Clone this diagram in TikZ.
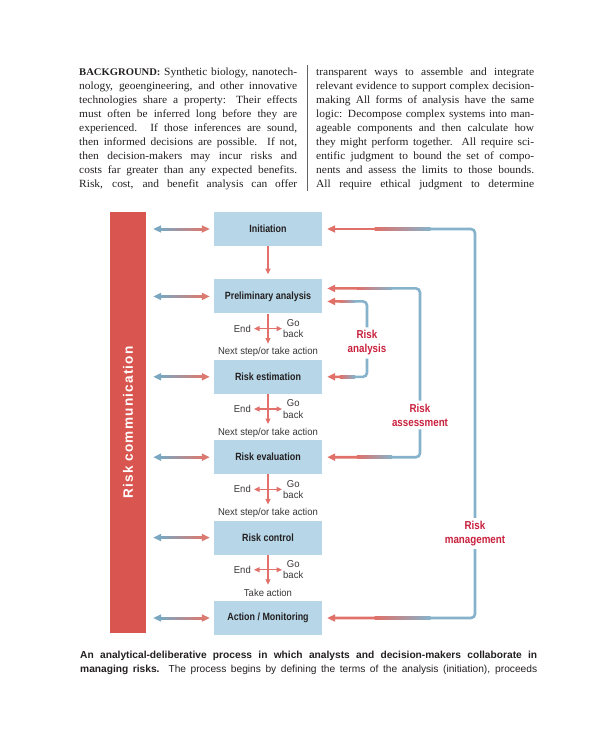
\documentclass[tikz,border=0pt]{standalone}
\usepackage{fontspec}
\usepackage{graphicx}
\setmainfont[FakeStretch=1.04]{Liberation Serif}
\setsansfont{Liberation Sans}
\newfontfamily\boxfont[FakeStretch=0.85]{Liberation Sans}
\newfontfamily\notefont[FakeStretch=0.95]{Liberation Sans}
\newfontfamily\barfont[LetterSpace=9]{Liberation Sans}
\usetikzlibrary{arrows.meta,positioning,calc}
\definecolor{barred}{HTML}{D95550}
\definecolor{boxblue}{HTML}{B7D7E8}
\definecolor{commblue}{HTML}{7BA7C0}
\definecolor{commred}{HTML}{DB7A70}
\definecolor{loopblue}{HTML}{86B3CB}
\definecolor{tipred}{HTML}{E07068}
\definecolor{flowred}{HTML}{E2716C}
\definecolor{riskred}{HTML}{C8203C}
\definecolor{ink}{HTML}{231F20}
\tikzset{
ftip/.tip={Triangle[length=5.5pt,width=5pt]},
ctip/.tip={Triangle[length=8pt,width=7pt]},
COLUMN/.style={anchor=north west,inner sep=0,text width=218pt,align=justify,text=ink,font=\fontsize{11}{14}\selectfont},
CAPTION/.style={anchor=north west,inner sep=0,text width=457pt,align=justify,text=ink,font=\sffamily\fontsize{10.2}{14}\selectfont},
RULE/.style={draw=ink!70,line width=0.6pt},
BAR/.style={fill=barred,minimum width=36pt,minimum height=421pt,inner sep=0,text=white,font=\barfont\bfseries\fontsize{13.6}{14}\selectfont},
STEPBOX/.style={fill=boxblue,minimum width=108pt,minimum height=34pt,inner sep=0,text=ink,font=\boxfont\bfseries\fontsize{10.5}{12}\selectfont},
NOTE/.style={inner sep=0,text=ink!90,font=\notefont\fontsize{10}{11.5}\selectfont},
TAG/.style={inner sep=3pt,align=center,text=riskred,font=\boxfont\bfseries\fontsize{11.5}{14}\selectfont},
FLOW/.style={draw=flowred,line width=1.1pt},
COMM/.style={line width=2pt},
LOOP/.style={draw=loopblue,line width=2.6pt,rounded corners=4pt},
}
% horizontal colour fade: left point, right point, left colour, right colour, half width
\newcommand\fadeseg[5]{%
  \shade[left color=#3,right color=#4] ($(#1)+(0,-#5)$) rectangle ($(#2)+(0,#5)$);
}
% feedback line from a label to an arrow tip
\newcommand\feedback[2]{%
  \coordinate (fbK) at (#1 |- #2);
  \coordinate (fbA) at ($(fbK)!0.3!(#2)$);
  \coordinate (fbB) at ($(fbK)!0.68!(#2)$);
  \draw[LOOP] (#1) |- ($(fbA)+(-0.3,0)$);
  \fadeseg{fbB}{fbA}{tipred}{loopblue}{1.3}
  \draw[LOOP,draw=tipred,-ctip] ($(fbB)+(0.3,0)$) -- (#2);
}
\newcommand\nexttext{Next step/or take action}

\begin{document}
\begin{tikzpicture}[x=1pt,y=-1pt]
	\useasboundingbox (0,0) rectangle (600,730);
	%background text
	\node[COLUMN] (bgleft) at (79,68) {\parfillskip=0pt
		{\fontsize{10.2}{14}\selectfont\textbf{BACKGROUND:}} Synthetic biology, nanotech-\linebreak nology, geoengineering, and other innovative\linebreak technologies share a property: Their effects\linebreak must often be inferred long before they are\linebreak experienced. If those inferences are sound,\linebreak then informed decisions are possible. If not,\linebreak then decision-makers may incur risks and\linebreak costs far greater than any expected benefits.\linebreak Risk, cost, and benefit analysis can offer\par};
	\node[COLUMN] (bgright) at (316,68) {\parfillskip=0pt
		transparent ways to assemble and integrate\linebreak relevant evidence to support complex decision-\linebreak making All forms of analysis have the same\linebreak logic: Decompose complex systems into man-\linebreak ageable components and then calculate how\linebreak they might perform together. All require sci-\linebreak entific judgment to bound the set of compo-\linebreak nents and assess the limits to those bounds.\linebreak All require ethical judgment to determine\par};
	\draw[RULE] (307,65) -- (307,191);
	%process
	\node[BAR] (bar) at (128,422.5) {\rotatebox{90}{Risk communication}};
	\node[STEPBOX] (init) at (268,229) {Initiation};
	\node[STEPBOX,below=33pt of init] (prelim) {Preliminary analysis};
	\node[STEPBOX,below=46pt of prelim] (estim) {Risk estimation};
	\node[STEPBOX,below=46pt of estim] (evalu) {Risk evaluation};
	\node[STEPBOX,below=46pt of evalu] (control) {Risk control};
	\node[STEPBOX,below=46pt of control] (action) {Action / Monitoring};
	\draw[FLOW,-ftip,shorten >=5pt] (init) -- (prelim);
	%decision points
	\foreach \b/\txt in {prelim/\nexttext,estim/\nexttext,evalu/\nexttext,control/Take action}{
		\coordinate (\b-down) at ($(\b.south)+(0,30)$);
		\coordinate (\b-e) at ($(\b.south)+(-14,15)$);
		\coordinate (\b-g) at ($(\b.south)+(14,15)$);
		\draw[FLOW,-ftip] (\b) -- (\b-down);
		\draw[FLOW,ftip-ftip] (\b-e) -- (\b-g);
		\node[NOTE,anchor=east] (\b-end) at ($(\b-e)+(-3,0)$) {End};
		\node[NOTE,anchor=west,align=center] (\b-back) at ($(\b-g)+(1,0)$) {Go\\back};
		\node[NOTE] (\b-next) at ($(\b.south)+(0,38.5)$) {\txt};
	}
	%communication arrows
	\foreach \b in {init,prelim,estim,evalu,control,action}{
		\coordinate (\b-cl) at ($(bar.east |- \b.west)+(7,0)$);
		\coordinate (\b-cr) at ($(\b.west)+(-4,0)$);
		\coordinate (\b-fl) at ($(\b-cl)+(8,0)$);
		\coordinate (\b-fr) at ($(\b-cr)+(-8,0)$);
		\fadeseg{\b-fl}{\b-fr}{commblue}{commred}{1}
		\draw[COMM,draw=commblue,-ctip] ($(\b-fl)+(0.3,0)$) -- (\b-cl);
		\draw[COMM,draw=commred,-ctip] ($(\b-fr)+(-0.3,0)$) -- (\b-cr);
	}
	%feedback loops
	\node[TAG] (anal) at (367,343) {Risk\\analysis};
	\node[TAG] (assess) at (420,415) {Risk\\assessment};
	\node[TAG] (mgmt) at (475,533.5) {Risk\\management};
	\coordinate (init-in) at ($(init.east)+(5,0)$);
	\coordinate (prelim-hi) at ($(prelim.east)+(5,-8)$);
	\coordinate (prelim-lo) at ($(prelim.east)+(5,5)$);
	\coordinate (estim-in) at ($(estim.east)+(5,0)$);
	\coordinate (evalu-in) at ($(evalu.east)+(5,0)$);
	\coordinate (action-in) at ($(action.east)+(5,0)$);
	\feedback{anal.north}{prelim-lo}
	\feedback{anal.south}{estim-in}
	\feedback{assess.north}{prelim-hi}
	\feedback{assess.south}{evalu-in}
	\feedback{mgmt.north}{init-in}
	\feedback{mgmt.south}{action-in}
	%caption
	\node[CAPTION] (caption) at (80,651) {\parfillskip=0pt
		\textbf{An analytical-deliberative process in which analysts and decision-makers collaborate in\linebreak managing risks.} The process begins by defining the terms of the analysis (initiation), proceeds\par};
\end{tikzpicture}
\end{document}
